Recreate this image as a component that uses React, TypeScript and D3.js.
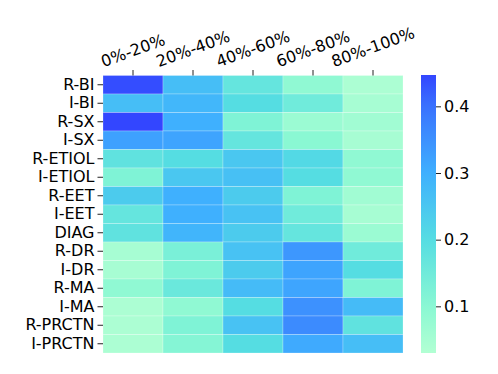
import React, { useRef, useEffect } from 'react';
import * as d3 from 'd3';

const rows = ['R-BI', 'I-BI', 'R-SX', 'I-SX', 'R-ETIOL', 'I-ETIOL', 'R-EET', 'I-EET', 'DIAG', 'R-DR', 'I-DR', 'R-MA', 'I-MA', 'R-PRCTN', 'I-PRCTN'];
const cols = ['0%-20%', '20%-40%', '40%-60%', '60%-80%', '80%-100%'];

// one array per column, values top to bottom
const col0 = [0.44, 0.27, 0.45, 0.325, 0.18, 0.12, 0.24, 0.17, 0.18, 0.05, 0.05, 0.09, 0.04, 0.04, 0.04];
const col1 = [0.27, 0.285, 0.3, 0.32, 0.2, 0.25, 0.3, 0.3, 0.29, 0.13, 0.12, 0.16, 0.09, 0.12, 0.11];
const col2 = [0.17, 0.2, 0.12, 0.17, 0.25, 0.265, 0.24, 0.26, 0.24, 0.26, 0.24, 0.275, 0.2, 0.26, 0.2];
const col3 = [0.09, 0.15, 0.07, 0.1, 0.21, 0.2, 0.12, 0.15, 0.17, 0.34, 0.32, 0.318, 0.35, 0.36, 0.31];
const col4 = [0.04, 0.05, 0.06, 0.05, 0.09, 0.09, 0.06, 0.05, 0.07, 0.15, 0.2, 0.12, 0.275, 0.18, 0.27];
const columns = [col0, col1, col2, col3, col4];

const cbTicks = [0.1, 0.2, 0.3, 0.4];
const vmin = 0.03;
const vmax = 0.447;

const FONT = '"DejaVu Sans", sans-serif';
const FS = 16;

const App = () => {
  const svgRef = useRef<SVGSVGElement>(null);

  useEffect(() => {
    const svg = d3.select(svgRef.current);
    svg.selectAll('*').remove();

    const x = d3.scaleBand().domain(cols).range([103, 403]);
    const y = d3.scaleBand().domain(rows).range([75.5, 353]);
    const color = d3
      .scaleLinear<string>()
      .domain([0.03, 0.1, 0.2, 0.3, 0.4, 0.447])
      .range(['#b2ffd3', '#8af8d3', '#55dde2', '#3fb0fe', '#3a72fe', '#3346ff'])
      .interpolate(d3.interpolateRgb)
      .clamp(true);

    const cells = columns.flatMap((vals, ci) =>
      vals.map((v, ri) => ({ col: cols[ci], row: rows[ri], v }))
    );

    svg
      .append('g')
      .selectAll('rect')
      .data(cells)
      .join('rect')
      .attr('x', d => x(d.col)!)
      .attr('y', d => y(d.row)!)
      .attr('width', x.bandwidth())
      .attr('height', y.bandwidth())
      .attr('fill', d => color(d.v))
      .attr('stroke', 'rgba(255,255,255,0.3)')
      .attr('stroke-width', 0.8);

    // top axis
    const xAxis = svg
      .append('g')
      .attr('transform', 'translate(0,75.5)')
      .call(d3.axisTop(x).tickSize(5.5).tickPadding(3));
    xAxis.select('.domain').remove();
    xAxis.selectAll('line').attr('stroke', '#222').attr('stroke-width', 1);
    const ang = (20 * Math.PI) / 180;
    xAxis
      .selectAll<SVGTextElement, string>('text')
      .attr('font-family', FONT)
      .attr('font-size', FS)
      .attr('fill', '#000')
      .attr('text-anchor', 'middle')
      .attr('dominant-baseline', 'central')
      .attr('y', 0)
      .each(function () {
        const w = this.getComputedTextLength();
        const capH = 0.73 * FS;
        const cy = -8 - (w * Math.sin(ang) + capH * Math.cos(ang)) / 2;
        d3.select(this).attr('transform', `translate(0,${cy}) rotate(-20)`);
      });

    // left axis
    const yAxis = svg
      .append('g')
      .attr('transform', 'translate(103,0)')
      .call(d3.axisLeft(y).tickSize(5.5).tickPadding(3));
    yAxis.select('.domain').remove();
    yAxis.selectAll('line').attr('stroke', '#222').attr('stroke-width', 1);
    yAxis
      .selectAll('text')
      .attr('font-family', FONT)
      .attr('font-size', FS)
      .attr('fill', '#000');

    // colorbar
    const cb = d3.scaleLinear().domain([vmin, vmax]).range([353, 75]);
    const defs = svg.append('defs');
    const grad = defs
      .append('linearGradient')
      .attr('id', 'cbgrad')
      .attr('x1', 0)
      .attr('y1', 1)
      .attr('x2', 0)
      .attr('y2', 0);
    d3.range(0, 1.0001, 0.05).forEach(t => {
      grad
        .append('stop')
        .attr('offset', t)
        .attr('stop-color', color(vmin + t * (vmax - vmin)));
    });
    svg
      .append('rect')
      .attr('x', 421)
      .attr('y', cb(vmax))
      .attr('width', 15)
      .attr('height', cb(vmin) - cb(vmax))
      .attr('fill', 'url(#cbgrad)');

    const cbAxis = svg
      .append('g')
      .attr('transform', 'translate(436,0)')
      .call(d3.axisRight(cb).tickValues(cbTicks).tickFormat(d3.format('.1f')).tickSize(5).tickPadding(3));
    cbAxis.select('.domain').remove();
    cbAxis.selectAll('line').attr('stroke', '#222').attr('stroke-width', 1);
    cbAxis
      .selectAll('text')
      .attr('font-family', FONT)
      .attr('font-size', FS)
      .attr('fill', '#000');
  }, []);

  return (
    <svg
      ref={svgRef}
      width={498}
      height={374}
      style={{ position: 'absolute', left: 0, top: 0, background: '#fff' }}
    />
  );
};

export default App;
